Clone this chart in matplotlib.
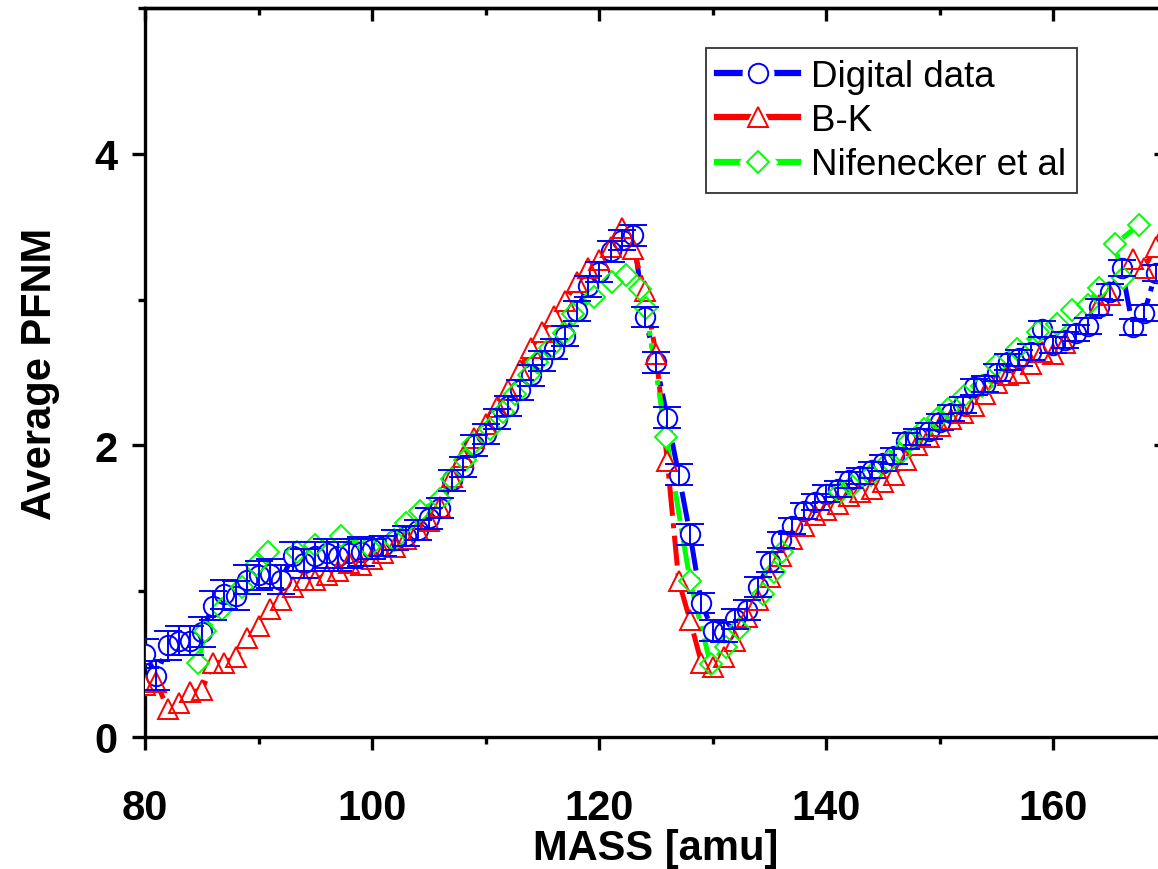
import matplotlib
matplotlib.use('Agg')
import matplotlib.pyplot as plt
from matplotlib.lines import Line2D
from matplotlib.legend_handler import HandlerTuple
import numpy as np

plt.rcParams['font.family'] = ['Liberation Sans', 'DejaVu Sans']

# digital data (blue circles, with error bars)
mass_dig = list(range(80, 170))
pfnm_dig = [0.57, 0.42, 0.63, 0.66, 0.66, 0.72, 0.90, 0.98, 0.97, 1.08,
            1.11, 1.12, 1.08, 1.24, 1.19, 1.24, 1.26, 1.24, 1.26, 1.27,
            1.29, 1.31, 1.35, 1.38, 1.42, 1.50, 1.57, 1.76, 1.85, 2.00,
            2.08, 2.18, 2.27, 2.38, 2.48, 2.58, 2.66, 2.75, 2.92, 3.09,
            3.19, 3.33, 3.41, 3.44, 2.88, 2.57, 2.19, 1.80, 1.39, 0.92,
            0.73, 0.72, 0.81, 0.87, 1.03, 1.20, 1.35, 1.45, 1.55, 1.61,
            1.67, 1.70, 1.76, 1.79, 1.83, 1.88, 1.93, 2.03, 2.06, 2.10,
            2.16, 2.22, 2.28, 2.40, 2.42, 2.50, 2.57, 2.60, 2.64, 2.80,
            2.69, 2.72, 2.77, 2.82, 2.95, 3.05, 3.22, 2.81, 2.91, 3.18]
err_dig = [0.10] * 20 + [0.07] * 36 + [0.055] * 34

# B-K (red triangles)
mass_bk = list(range(80, 162)) + [164, 165, 167, 168, 169, 170]
pfnm_bk = [0.36, 0.38, 0.19, 0.23, 0.31, 0.32, 0.51, 0.51, 0.55, 0.68,
           0.76, 0.88, 0.94, 1.03, 1.08, 1.08, 1.11, 1.14, 1.19, 1.18,
           1.22, 1.26, 1.30, 1.36, 1.42, 1.48, 1.58, 1.78, 1.92, 2.05,
           2.15, 2.26, 2.38, 2.52, 2.67, 2.78, 2.89, 2.99, 3.12, 3.22,
           3.27, 3.36, 3.49, 3.35, 3.06, 2.63, 1.89, 1.07, 0.80, 0.51,
           0.48, 0.55, 0.66, 0.82, 0.94, 1.10, 1.24, 1.36, 1.45, 1.52,
           1.56, 1.60, 1.65, 1.68, 1.70, 1.75, 1.80, 1.90, 2.00, 2.06,
           2.13, 2.18, 2.22, 2.27, 2.35, 2.43, 2.48, 2.50, 2.56, 2.64,
           2.63, 2.70,
           2.96, 3.03, 3.28, 3.22, 3.36, 3.50]

# Nifenecker et al (green diamonds)
mass_nif = [84.7, 85.3, 86.8, 88.5, 89.8, 90.8, 93.4, 95.0, 97.3, 99.7,
            101.9, 103.0, 104.2, 106.0, 107.0, 108.2, 108.9, 110.4, 111.5, 112.6,
            113.8, 114.5, 115.7, 116.9, 117.7, 119.5, 121.1, 122.4, 123.6, 124.1,
            125.9, 128.0, 129.8, 131.2, 132.3, 134.4, 135.4, 136.1, 141.2, 142.3,
            143.9, 145.5, 146.5, 147.3, 148.6, 149.8, 150.7, 152.1, 153.7, 154.9,
            156.8, 158.6, 160.3, 161.6, 163.0, 164.0, 166.1, 165.4, 167.5]
pfnm_nif = [0.51, 0.73, 0.88, 1.03, 1.18, 1.27, 1.27, 1.32, 1.38, 1.30,
            1.35, 1.47, 1.55, 1.63, 1.77, 1.90, 2.01, 2.11, 2.23, 2.35,
            2.48, 2.57, 2.67, 2.77, 2.90, 3.02, 3.12, 3.17, 3.07, 2.94,
            2.06, 1.07, 0.50, 0.62, 0.74, 0.98, 1.13, 1.27, 1.68, 1.72,
            1.80, 1.89, 1.94, 2.03, 2.11, 2.19, 2.25, 2.34, 2.41, 2.55,
            2.66, 2.78, 2.83, 2.93, 2.96, 3.08, 3.15, 3.38, 3.51]

BLUE, RED, GREEN = '#0000ff', '#ff0000', '#00ff00'
dashdot = (6, 1.5, 1, 1.5)

fig = plt.figure(figsize=(11.58, 8.7), dpi=100)
ax = fig.add_axes([145/1158, 132/870, 1022/1158, 729/870])

series = [(mass_dig, pfnm_dig, BLUE, 'o', 14, 'Digital data'),
          (mass_bk, pfnm_bk, RED, '^', 15, 'B-K'),
          (mass_nif, pfnm_nif, GREEN, 'D', 11.5, 'Nifenecker et al')]

handles = []
for x, y, c, m, ms, lab in series:
    ax.plot(x, y, color=c, lw=3.6, dashes=dashdot, zorder=2)
    # white fill hides the line under the symbol (Origin style gap)
    ax.plot(x, y, ls='none', marker=m, ms=ms, mfc='white', mec='none', zorder=3)
    ax.plot(x, y, ls='none', marker=m, ms=ms, mfc='none', mec=c, mew=1.4, zorder=4)
    h_line = Line2D([], [], color=c, lw=4.5)
    h_gap = Line2D([], [], ls='none', marker=m, ms=ms + 8, mfc='white', mec='white')
    h_mk = Line2D([], [], ls='none', marker=m, ms=ms, mfc='white', mec=c, mew=1.4)
    handles.append((h_line, h_gap, h_mk))

ax.errorbar(mass_dig, pfnm_dig, yerr=err_dig, fmt='none', ecolor=BLUE,
            elinewidth=1.4, capsize=10, capthick=1.4, zorder=4)

ax.set_xlim(80, 170)
ax.set_ylim(0, 5)
ax.set_xticks([80, 100, 120, 140, 160])
ax.set_xticks([90, 110, 130, 150, 170], minor=True)
ax.set_yticks([0, 2, 4])
ax.set_yticks([1, 3, 5], minor=True)
for s in ax.spines.values():
    s.set_linewidth(2.4)
ax.tick_params(which='major', direction='out', length=9.5, width=2.4,
               labelsize=30, pad=10)
ax.tick_params(axis='x', which='major', pad=27)
ax.tick_params(which='minor', direction='out', length=5, width=2.4)
for lab in ax.get_xticklabels() + ax.get_yticklabels():
    lab.set_fontweight('bold')

# inward ticks on top and right
top = ax.secondary_xaxis('top')
top.set_xticks([80, 100, 120, 140, 160])
top.set_xticks([90, 110, 130, 150, 170], minor=True)
top.tick_params(which='major', direction='in', length=9.5, width=2.4, labeltop=False)
top.tick_params(which='minor', direction='in', length=5, width=2.4)
right = ax.secondary_yaxis('right')
right.set_yticks([0, 2, 4])
right.set_yticks([1, 3, 5], minor=True)
right.tick_params(which='major', direction='in', length=9.5, width=2.4, labelright=False)
right.tick_params(which='minor', direction='in', length=5, width=2.4)
top.spines['top'].set_linewidth(2.4)
right.spines['right'].set_linewidth(2.4)

ax.set_xlabel('MASS [amu]', fontsize=30, fontweight='bold', labelpad=0)
ax.set_ylabel('Average PFNM', fontsize=30, fontweight='bold', labelpad=25)

leg = fig.legend(handles, [s[5] for s in series],
                 handler_map={tuple: HandlerTuple(ndivide=1)},
                 loc='upper left', bbox_to_anchor=(706/1158, 1 - 49/870),
                 fontsize=26.5, frameon=True, fancybox=False, edgecolor='black',
                 handlelength=2.2, handletextpad=0.35, labelspacing=0.25,
                 borderpad=0.3, borderaxespad=0)
leg.get_frame().set_linewidth(1.3)

fig.savefig('out.png', dpi=100)
